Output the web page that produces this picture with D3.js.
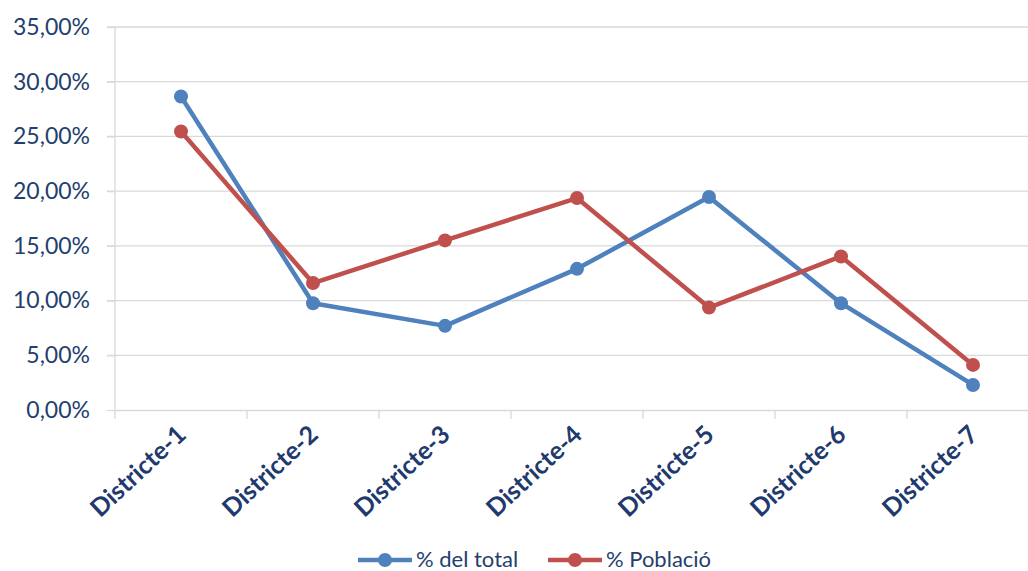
<!DOCTYPE html>
<html><head><meta charset="utf-8">
<script src="https://cdn.jsdelivr.net/npm/d3@7"></script>
<style>body{margin:0;background:#fff}svg{display:block}</style>
</head><body>
<svg id="c" width="1028" height="571"></svg>
<script>
const categories = ["Districte-1","Districte-2","Districte-3","Districte-4","Districte-5","Districte-6","Districte-7"];
const seriesNames = ["% del total","% Població"];
const totalValues = [28.65, 9.76, 7.69, 12.9, 19.46, 9.76, 2.29];
const poblacioValues = [25.45, 11.6, 15.5, 19.37, 9.36, 14.03, 4.12];
const yTicks = [0,5,10,15,20,25,30,35];
const colors = ["#4F81BD","#C0504D"];

(function(){
const svg = d3.select("#c");
const mLeft = 115, mRight = 1039, mTop = 27, mBottom = 410;
const x = d3.scaleBand().domain(categories).range([mLeft, mRight]);
const y = d3.scaleLinear().domain([0,35]).range([mBottom, mTop]);
const fmt = v => d3.format(".2f")(v).replace(".", ",") + "%";
const font = "Lato, 'Open Sans', sans-serif";

// gridlines
svg.append("g").selectAll("line").data(yTicks.filter(t=>t>0)).join("line")
  .attr("x1", mLeft-8).attr("x2", mRight).attr("y1", d=>y(d)).attr("y2", d=>y(d))
  .attr("stroke","#d9d9d9").attr("stroke-width",1.3);
svg.append("line").attr("x1",mLeft).attr("x2",mLeft).attr("y1",mTop).attr("y2",mBottom)
  .attr("stroke","#d9d9d9").attr("stroke-width",1.3);

// y axis labels
const yAxis = d3.axisLeft(y).tickValues(yTicks).tickFormat(fmt).tickSize(8).tickPadding(17);
const gy = svg.append("g").attr("transform",`translate(${mLeft},0)`).call(yAxis);
gy.select(".domain").remove();
gy.selectAll(".tick line").attr("stroke","#d9d9d9").attr("stroke-width",1.3);
gy.selectAll("text").attr("font-family",font).attr("font-size",23).attr("fill","#243f6e");

// x axis
const xAxis = d3.axisBottom(x).tickSize(0).tickFormat("");
const gx = svg.append("g").attr("transform",`translate(0,${mBottom})`).call(xAxis);
gx.select(".domain").attr("stroke","#d9d9d9").attr("stroke-width",1.3);
const tickPos = categories.map(c=>x(c)).concat([mRight]);
svg.append("g").selectAll("line").data(tickPos).join("line")
  .attr("x1",d=>d).attr("x2",d=>d).attr("y1",mBottom).attr("y2",mBottom+9)
  .attr("stroke","#d9d9d9").attr("stroke-width",1.3);
svg.append("g").selectAll("text").data(categories).join("text")
  .attr("transform", d=>`translate(${x(d)+x.bandwidth()/2-7},${mBottom+12}) rotate(-43)`)
  .attr("text-anchor","end").attr("dominant-baseline","hanging")
  .attr("font-family",font).attr("font-weight","bold").attr("font-size",25)
  .attr("fill","#1f3a6e").text(d=>d);

// lines
const series = [totalValues, poblacioValues];
const line = d3.line().x((d,i)=>x(categories[i])+x.bandwidth()/2).y(d=>y(d));
series.forEach((vals, si) => {
  const g = svg.append("g");
  g.append("path").datum(vals).attr("d", line).attr("fill","none")
    .attr("stroke", colors[si]).attr("stroke-width",4.5).attr("stroke-linejoin","round");
  g.selectAll("circle").data(vals).join("circle")
    .attr("cx",(d,i)=>x(categories[i])+x.bandwidth()/2).attr("cy",d=>y(d)).attr("r",7)
    .attr("fill",colors[si]);
});

// legend
const legX = [358, 548];
const lg = svg.append("g");
seriesNames.forEach((n,i)=>{
  const lx = legX[i], ly = 560;
  lg.append("line").attr("x1",lx).attr("x2",lx+54).attr("y1",ly).attr("y2",ly)
    .attr("stroke",colors[i]).attr("stroke-width",4.5);
  lg.append("circle").attr("cx",lx+27).attr("cy",ly).attr("r",7).attr("fill",colors[i]);
  lg.append("text").attr("x",lx+58).attr("y",ly+7)
    .attr("font-family",font).attr("font-size",22).attr("fill","#243f6e").text(n);
});
})();
</script>
</body></html>
